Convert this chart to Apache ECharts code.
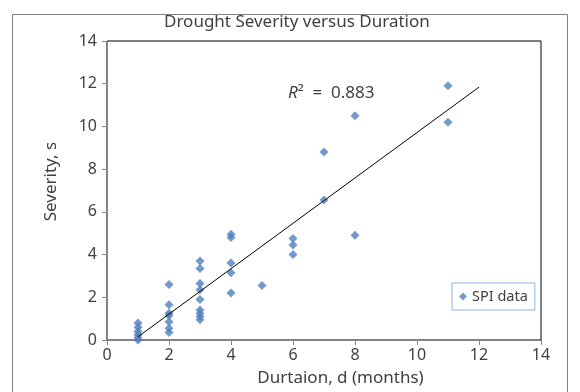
<!DOCTYPE html>
<html><head><meta charset="utf-8">
<script src="https://cdn.jsdelivr.net/npm/echarts@6/dist/echarts.min.js"></script>
<style>html,body{margin:0;padding:0;background:#fff}#c{width:580px;height:392px}</style>
</head><body><div id="c"></div>
<script>
// Duration (months) and severity values
const durations = [1,1,1,1,1,1, 2,2,2,2,2,2,2, 3,3,3,3,3,3,3,3,3, 4,4,4,4,4, 5, 6,6,6, 7,7, 8,8, 11,11];
const severities = [0.8,0.6,0.4,0.25,0.1,0.0, 2.6,1.65,1.25,1.15,0.85,0.55,0.35, 3.7,3.35,2.65,2.35,1.9,1.4,1.25,1.1,0.95, 4.95,4.8,3.6,3.15,2.2, 2.55, 4.75,4.45,4.0, 8.8,6.55, 10.5,4.9, 11.9,10.2];
// Linear trend line endpoints (d, s)
const trendD = [1, 12];
const trendS = [0.15, 11.84];
const rSquared = '0.883';
const xTicks = [0,2,4,6,8,10,12,14];
const yTicks = [0,2,4,6,8,10,12,14];

const FONT = 'Noto Sans';
const TXT = '#404040';
const scatterData = durations.map((d,i)=>[d, severities[i]]);
const trendData = trendD.map((d,i)=>[d, trendS[i]]);

const chart = echarts.init(document.getElementById('c'), null, {renderer:'canvas'});
chart.setOption({
  animation:false,
  textStyle:{fontFamily:FONT},
  title:{text:'Drought Severity versus Duration', left:164, top:14, itemGap:0, padding:0,
    textStyle:{fontFamily:FONT, fontSize:17, fontWeight:'normal', color:TXT}},
  grid:{left:107, right:39, top:41, bottom:52, show:true, borderColor:'#000', borderWidth:1, containLabel:false},
  xAxis:{type:'value', min:xTicks[0], max:xTicks[xTicks.length-1], interval:2,
    axisLine:{show:true, onZero:false, lineStyle:{color:'#868686'}},
    axisTick:{show:true, inside:false, length:5, lineStyle:{color:'#868686'}},
    splitLine:{show:false},
    axisLabel:{fontFamily:FONT, fontSize:16, color:TXT, margin:7},
    name:'Durtaion, d (months)', nameLocation:'middle', nameGap:30,
    nameTextStyle:{fontFamily:FONT, fontSize:17, color:TXT, padding:[0,0,0,33]}},
  yAxis:{type:'value', min:yTicks[0], max:yTicks[yTicks.length-1], interval:2,
    axisLine:{show:true, onZero:false, lineStyle:{color:'#868686'}},
    axisTick:{show:true, inside:false, length:5, lineStyle:{color:'#868686'}},
    splitLine:{show:false},
    axisLabel:{fontFamily:FONT, fontSize:16, color:TXT, margin:10},
    name:'Severity, s', nameLocation:'middle', nameGap:47,
    nameTextStyle:{fontFamily:FONT, fontSize:17, color:TXT, padding:[0,0,0,18]}},
  legend:{show:true, left:452, top:283, orient:'horizontal',
    data:[{name:'SPI data', icon:'diamond'}],
    itemWidth:8, itemHeight:8, itemGap:6,
    padding:[6,7,6,7], borderColor:'#8DB3E2', borderWidth:1,
    textStyle:{fontFamily:FONT, fontSize:14.5, color:TXT}},
  graphic:[
    {type:'rect', shape:{x:12.5, y:14.5, width:555, height:390}, style:{fill:'none', stroke:'#7f7f7f', lineWidth:1}, silent:true, z:-1},
    {type:'text', left:288, top:85, style:{
      rich:{i:{fontStyle:'italic', fontFamily:FONT, fontSize:17, fill:TXT}, n:{fontFamily:FONT, fontSize:17, fill:TXT}},
      text:'{i|R}{n|²  =  '+rSquared+'}'}}
  ],
  series:[
    {name:'SPI data', type:'scatter', symbol:'diamond', symbolSize:9,
      itemStyle:{color:'#4F81BD'}, data:scatterData, z:3},
    {name:'Linear', type:'line', data:trendData, showSymbol:false, symbol:'none',
      lineStyle:{color:'#000', width:1}, z:4, silent:true}
  ]
});
</script></body></html>
